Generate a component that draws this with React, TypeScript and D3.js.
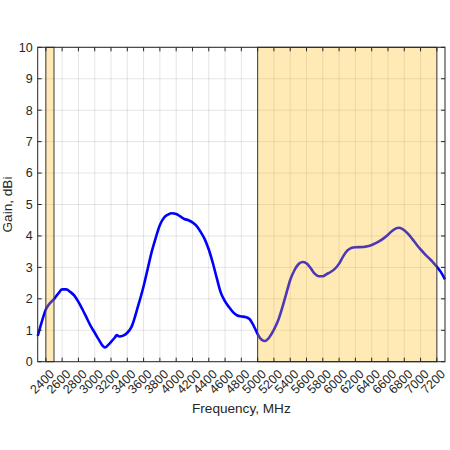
import React from "react";
import * as d3 from "d3";

// measured gain curve
const freqMHz = [
  2300, 2350, 2400, 2450, 2500, 2550, 2600, 2650, 2700, 2750, 2800, 2850, 2900,
  2950, 3000, 3050, 3100, 3130, 3160, 3200, 3250, 3270, 3300, 3350, 3400, 3450,
  3530, 3600, 3650, 3700, 3750, 3800, 3850, 3900, 3950, 4000, 4050, 4100, 4150,
  4200, 4250, 4300, 4350, 4400, 4450, 4500, 4550, 4600, 4650, 4700, 4750, 4800,
  4850, 4900, 4950, 5000, 5050, 5090, 5150, 5200, 5250, 5300, 5350, 5400, 5450,
  5500, 5550, 5600, 5650, 5700, 5750, 5800, 5850, 5900, 5950, 6000, 6050, 6100,
  6150, 6200, 6300, 6350, 6400, 6450, 6500, 6550, 6600, 6650, 6700, 6730, 6780,
  6850, 6900, 6950, 7000, 7050, 7100, 7150, 7200, 7250, 7300,
];
const gainDBi = [
  0.82, 1.27, 1.66, 1.86, 1.99, 2.16, 2.3, 2.3, 2.22, 2.1, 1.9, 1.66, 1.4,
  1.14, 0.92, 0.7, 0.5, 0.45, 0.52, 0.63, 0.78, 0.85, 0.8, 0.83, 0.92, 1.1,
  1.75, 2.4, 2.95, 3.5, 3.95, 4.35, 4.58, 4.68, 4.72, 4.7, 4.62, 4.54, 4.5,
  4.43, 4.32, 4.13, 3.9, 3.57, 3.14, 2.64, 2.18, 1.92, 1.73, 1.57, 1.47, 1.44,
  1.42, 1.36, 1.15, 0.88, 0.7, 0.66, 0.8, 1.02, 1.3, 1.7, 2.15, 2.6, 2.9,
  3.1, 3.17, 3.13, 2.98, 2.8, 2.72, 2.72, 2.79, 2.86, 2.96, 3.12, 3.35, 3.53,
  3.62, 3.64, 3.65, 3.67, 3.71, 3.77, 3.84, 3.93, 4.04, 4.16, 4.24, 4.26, 4.22,
  4.06, 3.9, 3.73, 3.57, 3.43, 3.3, 3.17, 3.02, 2.85, 2.62,
];

// highlighted frequency bands [start, end]
const bandStarts = [2400, 5000];
const bandEnds = [2500, 7200];

const xTicks = d3.range(2400, 7201, 200);
const yTicks = d3.range(0, 11, 1);

const W = 450;
const H = 450;
const margin = { top: 47.3, right: 5, bottom: 88.3, left: 37.7 };
const axisColor = "#262626";
const font = "'Liberation Sans', Arial, Helvetica, sans-serif";

export default function App() {
  const x = d3
    .scaleLinear()
    .domain([2300, 7300])
    .range([margin.left, W - margin.right]);
  const y = d3
    .scaleLinear()
    .domain([0, 10])
    .range([H - margin.bottom, margin.top]);

  const pts = freqMHz.map((f, i) => [f, gainDBi[i]] as [number, number]);
  const line = d3
    .line<[number, number]>()
    .x((d) => x(d[0]))
    .y((d) => y(d[1]))
    .curve(d3.curveMonotoneX);

  const x0 = x.range()[0];
  const x1 = x.range()[1];
  const y0 = y.range()[0];
  const y1 = y.range()[1];
  const tick = 4;

  return (
    <svg
      width={W}
      height={H}
      style={{ position: "absolute", left: 0, top: 0, background: "#fff" }}
      fontFamily={font}
    >
      <rect x={0} y={0} width={W} height={H} fill="#fff" />

      {/* grid */}
      <g stroke={axisColor} strokeOpacity={0.15} strokeWidth={0.8}>
        {xTicks.map((t) => (
          <line key={"gx" + t} x1={x(t)} x2={x(t)} y1={y0} y2={y1} />
        ))}
        {yTicks.map((t) => (
          <line key={"gy" + t} x1={x0} x2={x1} y1={y(t)} y2={y(t)} />
        ))}
      </g>

      {/* gain curve */}
      <path
        d={line(pts) || ""}
        fill="none"
        stroke="#0000ff"
        strokeWidth={2.6}
        strokeLinejoin="round"
      />

      {/* bands over the curve, semi-transparent */}
      {bandStarts.map((s, i) => (
        <rect
          key={"band" + i}
          x={x(s)}
          y={y1}
          width={x(bandEnds[i]) - x(s)}
          height={y0 - y1}
          fill="rgb(255,185,10)"
          fillOpacity={0.3}
          stroke="#3a3a3a"
          strokeWidth={1}
        />
      ))}

      {/* axes box with inward ticks */}
      <g stroke={axisColor} strokeWidth={1} fill="none">
        <rect x={x0} y={y1} width={x1 - x0} height={y0 - y1} />
        {xTicks.map((t) => (
          <g key={"tx" + t}>
            <line x1={x(t)} x2={x(t)} y1={y0} y2={y0 - tick} />
            <line x1={x(t)} x2={x(t)} y1={y1} y2={y1 + tick} />
          </g>
        ))}
        {yTicks.map((t) => (
          <g key={"ty" + t}>
            <line x1={x0} x2={x0 + tick} y1={y(t)} y2={y(t)} />
            <line x1={x1} x2={x1 - tick} y1={y(t)} y2={y(t)} />
          </g>
        ))}
      </g>

      {/* tick labels */}
      <g fill={axisColor} fontSize={12.5}>
        {yTicks.map((t) => (
          <text
            key={"ly" + t}
            x={x0 - 5}
            y={y(t)}
            dy="0.35em"
            textAnchor="end"
          >
            {t}
          </text>
        ))}
        {xTicks.map((t) => (
          <text
            key={"lx" + t}
            transform={`translate(${x(t) + 3},${y0 + 7}) rotate(-45)`}
            textAnchor="end"
            dy="0.7em"
          >
            {t}
          </text>
        ))}
      </g>

      {/* axis titles */}
      <text
        x={(x0 + x1) / 2}
        y={413}
        textAnchor="middle"
        fontSize={13.6}
        fill={axisColor}
      >
        Frequency, MHz
      </text>
      <text
        transform={`translate(12,${(y0 + y1) / 2}) rotate(-90)`}
        textAnchor="middle"
        fontSize={13.6}
        fill={axisColor}
      >
        Gain, dBi
      </text>
    </svg>
  );
}
